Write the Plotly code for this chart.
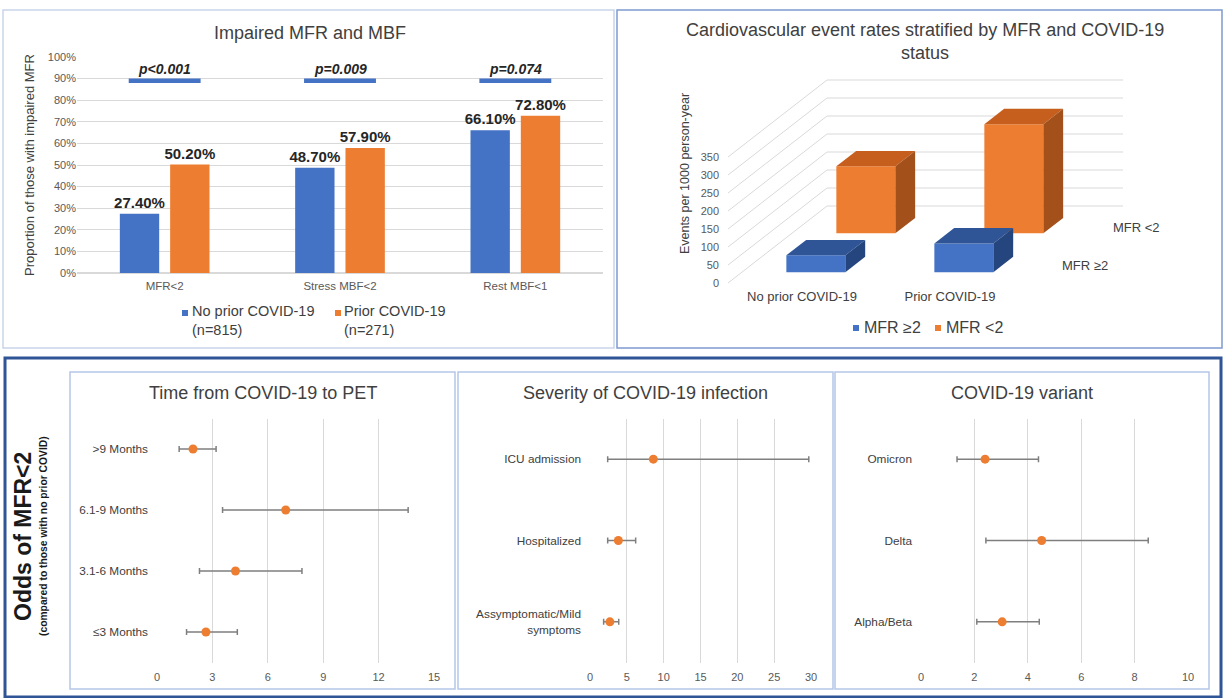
import plotly.graph_objects as go

W, H = 1225, 698
FONT = "Liberation Sans, Arial, sans-serif"

# ---------------- data ----------------
bar_categories = ["MFR<2", "Stress MBF<2", "Rest MBF<1"]
no_prior_pct = [27.4, 48.7, 66.1]
prior_pct = [50.2, 57.9, 72.8]
p_values = ["p<0.001", "p=0.009", "p=0.074"]

event_groups = ["No prior COVID-19", "Prior COVID-19"]
events_mfr_ge2 = [47, 80]
events_mfr_lt2 = [186, 303]
event_ticks = [0, 50, 100, 150, 200, 250, 300, 350]

time_cats = [">9 Months", "6.1-9 Months", "3.1-6 Months", "≤3 Months"]
time_or = [1.95, 6.97, 4.25, 2.65]
time_lo = [1.20, 3.55, 2.30, 1.60]
time_hi = [3.20, 13.60, 7.85, 4.35]

sev_cats = ["ICU admission", "Hospitalized", "Assymptomatic/Mild<br>symptoms"]
sev_or = [8.6, 3.85, 2.7]
sev_lo = [2.4, 2.4, 1.85]
sev_hi = [29.7, 6.2, 3.9]

var_cats = ["Omicron", "Delta", "Alpha/Beta"]
var_or = [2.40, 4.52, 3.04]
var_lo = [1.35, 2.43, 2.09]
var_hi = [4.40, 8.51, 4.43]

# ---------------- colours ----------------
BLUE, ORANGE = "#4472C4", "#ED7D31"
BLUE_TOP, BLUE_SIDE = "#2F5597", "#24457E"
OR_TOP, OR_SIDE = "#C65F1E", "#A3501A"
GRID = "#d9d9d9"
TXT = "#404040"
TICK = "#595959"


def px(x):
    return x / W


def py(y):
    return 1 - y / H


def note(x, y, text, size, color=TXT, xanchor="center", yanchor="middle", **kw):
    d = dict(xref="paper", yref="paper", x=px(x), y=py(y), text=text, showarrow=False,
             xanchor=xanchor, yanchor=yanchor, font=dict(size=size, color=color, family=FONT))
    d.update(kw)
    return d


fig = go.Figure()
shapes = []
annotations = []

# ================= Panel 1: grouped bars =================
for vals, col in ((no_prior_pct, BLUE), (prior_pct, ORANGE)):
    fig.add_trace(go.Bar(x=bar_categories, y=vals, marker_color=col, marker_line_width=0,
                         texttemplate="<b>%{y:.2f}%</b>", textposition="outside", cliponaxis=False,
                         constraintext="none",
                         textfont=dict(size=15, color="#262626", family=FONT),
                         showlegend=False, xaxis="x", yaxis="y"))

for i, p in enumerate(p_values):
    shapes.append(dict(type="line", xref="x", yref="y", x0=i - 0.205, x1=i + 0.205, y0=89, y1=89,
                       line=dict(color=BLUE, width=4.5)))
    annotations.append(dict(xref="x", yref="y", x=i, y=94.5, text=f"<b><i>{p}</i></b>", showarrow=False,
                            xanchor="center", yanchor="middle",
                            font=dict(size=14, color="#262626", family=FONT)))

annotations.append(note(310, 33, "Impaired MFR and MBF", 18))
# legend (panel 1)
shapes.append(dict(type="rect", xref="paper", yref="paper", x0=px(182), x1=px(188), y0=py(316), y1=py(310),
                   fillcolor=BLUE, line_width=0))
shapes.append(dict(type="rect", xref="paper", yref="paper", x0=px(335), x1=px(341), y0=py(316), y1=py(310),
                   fillcolor=ORANGE, line_width=0))
annotations.append(note(190, 320, "No prior COVID-19<br>(n=815)", 14.5, xanchor="left", align="left"))
annotations.append(note(342, 320, "Prior COVID-19<br>(n=271)", 14.5, xanchor="left", align="left"))

# ================= Panel 2: pseudo-3D bars =================
SC = 0.36            # px per value unit
Y0 = 283             # pixel of value 0 at front
XL = 728             # front-left of the floor (px)
CAT_W = 148          # category width (px)
DX = 99              # depth offset, px
DY = 77 / SC         # depth offset, value units
BW = 59              # bar width (px)
BD = 0.2             # bar depth fraction
XR = XL + CAT_W * len(event_groups)

for v in event_ticks:
    shapes.append(dict(type="line", xref="x2", yref="y2", x0=XL, y0=v, x1=XL + DX, y1=v + DY,
                       line=dict(color=GRID, width=1), layer="below"))
    shapes.append(dict(type="line", xref="x2", yref="y2", x0=XL + DX, y0=v + DY, x1=XR + DX, y1=v + DY,
                       line=dict(color=GRID, width=1), layer="below"))

rows = [  # back row first
    (events_mfr_lt2, 0.645, ORANGE, OR_TOP, OR_SIDE, "MFR <2"),
    (events_mfr_ge2, 0.14, BLUE, BLUE_TOP, BLUE_SIDE, "MFR ≥2"),
]
for vals, d0, c_front, c_top, c_side, name in rows:
    base = d0 * DY
    centers = [XL + (i + 0.5) * CAT_W + d0 * DX for i in range(len(vals))]
    fig.add_trace(go.Bar(x=centers, y=vals, base=[base] * len(vals), width=BW, offset=-BW / 2,
                         marker_color=c_front, marker_line_width=0, showlegend=False, name=name,
                         xaxis="x2", yaxis="y2"))
    ddx, ddy = BD * DX, BD * DY
    for c, v in zip(centers, vals):
        x1, x2 = c - BW / 2, c + BW / 2
        top = base + v
        fig.add_trace(go.Scatter(x=[x1, x2, x2 + ddx, x1 + ddx, x1], y=[top, top, top + ddy, top + ddy, top],
                                 fill="toself", fillcolor=c_top, mode="lines", line=dict(width=0, color=c_top),
                                 showlegend=False, hoverinfo="skip", xaxis="x2", yaxis="y2"))
        fig.add_trace(go.Scatter(x=[x2, x2 + ddx, x2 + ddx, x2, x2], y=[base, base + ddy, top + ddy, top, base],
                                 fill="toself", fillcolor=c_side, mode="lines", line=dict(width=0, color=c_side),
                                 showlegend=False, hoverinfo="skip", xaxis="x2", yaxis="y2"))

annotations.append(note(925, 42, "Cardiovascular event rates stratified by MFR and COVID-19<br>status", 18))
annotations.append(note(1136, 227, "MFR <2", 13))
annotations.append(note(1085, 265, "MFR ≥2", 13))
# legend (panel 2)
shapes.append(dict(type="rect", xref="paper", yref="paper", x0=px(853), x1=px(859), y0=py(331), y1=py(325),
                   fillcolor=BLUE, line_width=0))
shapes.append(dict(type="rect", xref="paper", yref="paper", x0=px(935), x1=px(941), y0=py(331), y1=py(325),
                   fillcolor=ORANGE, line_width=0))
annotations.append(note(862, 328, "MFR ≥2", 16, xanchor="left"))
annotations.append(note(944, 328, "MFR <2", 16, xanchor="left"))

# ================= Forest plots =================
forest = [
    ("3", time_cats, time_or, time_lo, time_hi, (157, 434), [0, 15], 3, "Time from COVID-19 to PET", 262.5),
    ("4", sev_cats, sev_or, sev_lo, sev_hi, (590, 811), [0, 30], 5, "Severity of COVID-19 infection", 645.5),
    ("5", var_cats, var_or, var_lo, var_hi, (921, 1188), [0, 10], 2, "COVID-19 variant", 1022),
]
for k, cats, est, lo, hi, dom, rng, dt, title, tx in forest:
    fig.add_trace(go.Scatter(
        x=est, y=cats, mode="markers", marker=dict(size=9, color=ORANGE),
        error_x=dict(type="data", symmetric=False,
                     array=[h - e for h, e in zip(hi, est)],
                     arrayminus=[e - l for e, l in zip(est, lo)],
                     color="#7f7f7f", thickness=1.5, width=3),
        showlegend=False, xaxis="x" + k, yaxis="y" + k))
    annotations.append(note(tx, 393, title, 18))

annotations.append(note(23, 537, "<b>Odds of MFR<2</b>", 23, color="#1a1a1a", textangle=-90))
annotations.append(note(43, 536, "<b>(compared to those with no prior COVID)</b>", 10.3, color="#1a1a1a",
                        textangle=-90))

# ================= panel frames =================
frames = [
    (3, 10, 614, 348, "#c9d5ea", 1.5),
    (617, 10, 1222, 348, "#7f9bd0", 1.5),
    (5, 358, 1221, 697, "#2F5597", 3),
    (70, 372, 455, 689, "#b4c7e7", 1.5),
    (458, 372, 833, 689, "#b4c7e7", 1.5),
    (835, 372, 1209, 689, "#b4c7e7", 1.5),
]
for x0, y0, x1, y1, col, lw in frames:
    shapes.append(dict(type="rect", xref="paper", yref="paper", x0=px(x0), x1=px(x1), y0=py(y1), y1=py(y0),
                       line=dict(color=col, width=lw), fillcolor="rgba(0,0,0,0)", layer="above"))

# ================= layout =================
layout = dict(
    width=W, height=H, margin=dict(l=0, r=0, t=0, b=0, pad=0, autoexpand=False),
    paper_bgcolor="white", plot_bgcolor="rgba(0,0,0,0)",
    font=dict(family=FONT, color=TXT),
    barmode="group", bargap=0.426, bargroupgap=0.218,
    shapes=shapes, annotations=annotations, showlegend=False,
    xaxis=dict(domain=[px(77), px(603)], anchor="y", showgrid=False, zeroline=False, showline=False,
               automargin=False, tickfont=dict(size=11.5, color=TICK), ticks="", ticklabelstandoff=4),
    yaxis=dict(domain=[py(273), py(57)], anchor="x", range=[0, 100], dtick=10, ticksuffix="%",
               showgrid=True, gridcolor=GRID, gridwidth=1, zeroline=True, zerolinecolor=GRID,
               automargin=False, tickfont=dict(size=11, color=TICK), ticks="",
               title=dict(text="Proportion of those with impaired MFR", standoff=10,
                          font=dict(size=13, color=TXT))),
    xaxis2=dict(domain=[px(720), px(1200)], anchor="y2", range=[720, 1200], showgrid=False, zeroline=False,
                showline=False, ticks="", automargin=False,
                tickvals=[XL + (i + 0.5) * CAT_W for i in range(len(event_groups))],
                ticktext=event_groups, tickfont=dict(size=13, color=TXT)),
    yaxis2=dict(domain=[py(287), py(60)], anchor="x2", range=[(Y0 - 287) / SC, (Y0 - 60) / SC],
                tickvals=event_ticks, showgrid=False, zeroline=False, showline=False, ticks="",
                automargin=False, tickfont=dict(size=11, color=TICK),
                title=dict(text="Events per 1000 person-year", standoff=8, font=dict(size=12.5, color=TXT))),
)
for k, cats, est, lo, hi, dom, rng, dt, title, tx in forest:
    n = len(cats)
    layout["xaxis" + k] = dict(domain=[px(dom[0]), px(dom[1])], anchor="y" + k, range=rng, dtick=dt,
                               showgrid=True, gridcolor=GRID, gridwidth=1, zeroline=False, showline=False,
                               automargin=False, ticks="", ticklabelstandoff=6,
                               tickfont=dict(size=11, color=TICK))
    layout["yaxis" + k] = dict(domain=[py(662.5), py(418.5)], anchor="x" + k, type="category",
                               categoryorder="array", categoryarray=cats,
                               range=[n - 0.5, -0.5], autorange=False,
                               showgrid=False, zeroline=False, showline=False,
                               automargin=False, ticks="", ticklabelstandoff=8,
                               tickfont=dict(size=11.8, color=TXT))

fig.update_layout(**layout)
fig.write_html("out.html", config={"displayModeBar": False},
               post_script="document.body.style.margin='0';document.body.style.overflow='hidden';")
